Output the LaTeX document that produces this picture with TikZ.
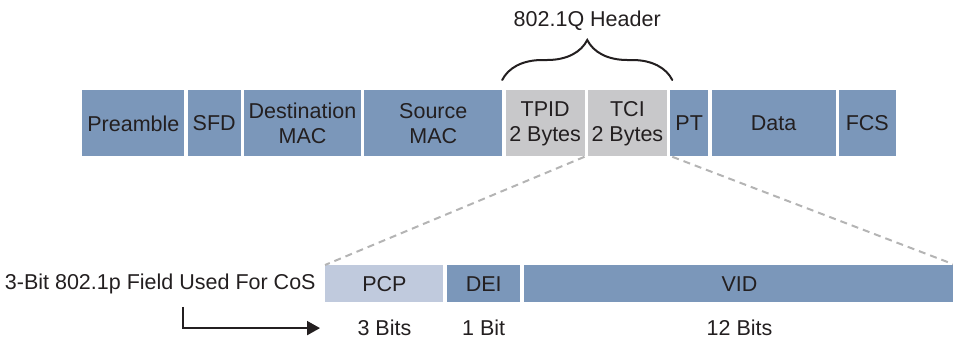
\documentclass[tikz,border=0pt]{standalone}
\usepackage{fontspec}
\setmainfont{Liberation Sans}
\usepackage{tikz}
\usetikzlibrary{arrows.meta,positioning,decorations.pathreplacing,calc}
\definecolor{FrameBlue}{HTML}{7B97BA}
\definecolor{TagGray}{HTML}{C8C8CA}
\definecolor{PcpBlue}{HTML}{C0CADD}
\definecolor{InkDark}{HTML}{231F20}
\definecolor{DashGray}{HTML}{B4B4B4}

\begin{document}
\begin{tikzpicture}[
  font=\fontsize{10.75}{12.5}\selectfont,
  text=InkDark,
  node distance=0pt and 1.25pt,
  field/.style={fill=FrameBlue, inner sep=0pt, align=center, minimum height=33pt},
  tag/.style={field, fill=TagGray},
  subfield/.style={fill=FrameBlue, inner sep=0pt, align=center, minimum height=18.5pt},
  bits/.style={inner sep=0pt},
  zoomline/.style={draw=DashGray, line width=1pt, dash pattern=on 3.5pt off 2.5pt},
  brace/.style={draw=InkDark, decorate, decoration={brace, amplitude=20pt}, line width=1pt, line cap=round},
  arrowline/.style={draw=InkDark, line width=1pt, -{Triangle[length=6.5pt, width=7pt]}}
]
\useasboundingbox (0,0) rectangle (476.5pt,-169pt);

\node[field, minimum width=51pt, anchor=north west] (preamble) at (41pt,-45pt) {Preamble};
\node[field, minimum width=26.5pt, right=of preamble] (sfd) {SFD};
\node[field, minimum width=58.5pt, right=of sfd] (dstmac) {Destination\\MAC};
\node[field, minimum width=69pt, right=of dstmac] (srcmac) {Source\\MAC};
\node[tag, minimum width=39.5pt, right=of srcmac] (tpid) {TPID\\2 Bytes};
\node[tag, minimum width=39.5pt, right=of tpid] (tci) {TCI\\2 Bytes};
\node[field, minimum width=19pt, right=of tci] (pt) {PT};
\node[field, minimum width=62pt, right=of pt] (data) {Data};
\node[field, minimum width=28.5pt, right=of data] (fcs) {FCS};

\coordinate (hdrl) at ([shift={(-1.5pt,5pt)}]tpid.north west);
\coordinate (hdrr) at ([shift={(2.5pt,5pt)}]tci.north east);
\draw[brace] (hdrl) -- node[above=24pt, inner sep=0pt] (hdr) {802.1Q Header} (hdrr);

\node[subfield, fill=PcpBlue, minimum width=59pt, anchor=north west] (pcp) at (162.5pt,-132.5pt) {PCP};
\node[subfield, minimum width=36.5pt, right=1.5pt of pcp] (dei) {DEI};
\node[subfield, minimum width=215.5pt, right=1.5pt of dei] (vid) {VID};

\node[bits, below=8.5pt of pcp] (pcpbits) {3 Bits};
\node[bits, below=8.5pt of dei] (deibits) {1 Bit};
\node[bits, below=8.5pt of vid] (vidbits) {12 Bits};

\node[inner sep=0pt, left=4.5pt of pcp] (cos) {3-Bit 802.1p Field Used For CoS};

\draw[zoomline] ([xshift=-1.5pt]tci.south west) -- (pcp.north west);
\draw[zoomline] ([xshift=2.5pt]tci.south east) -- (vid.north east);

\coordinate (ustart) at ([shift={(89pt,-6.3pt)}]cos.south west);
\coordinate (utip) at ($(pcp.west |- pcpbits.west)+(-2.5pt,0)$);
\draw[arrowline] (ustart) |- (utip);

\end{tikzpicture}
\end{document}
